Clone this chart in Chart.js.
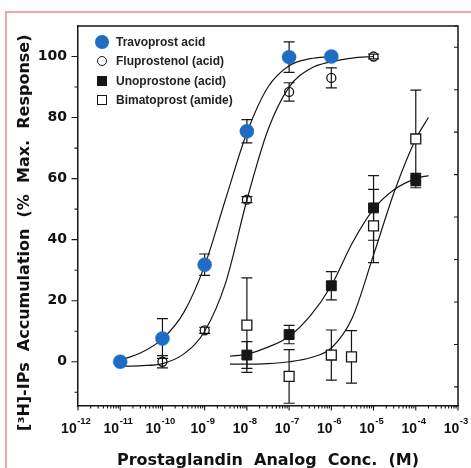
<!DOCTYPE html>
<html>
<head>
<meta charset="utf-8">
<script src="https://cdn.jsdelivr.net/npm/chart.js@4.4.1/dist/chart.umd.min.js"></script>
<style>
html,body{margin:0;padding:0;background:#fff;}
#wrap{position:relative;width:471px;height:468px;overflow:hidden;background:#fff;}
#frame{position:absolute;left:5px;top:11px;width:480px;height:480px;border-left:2px solid #f4a4a7;border-top:2px solid #f4a4a7;}
#c{position:absolute;left:0;top:0;}
#legend{position:absolute;left:94px;top:32px;font:bold 12px "Liberation Sans",Arial,sans-serif;color:#222;}
.row{height:19.5px;display:flex;align-items:center;white-space:nowrap;}
.mk{width:16px;height:16px;margin-right:6px;display:flex;align-items:center;justify-content:center;flex:none;}
.mk span{display:block;box-sizing:border-box;}
</style>
</head>
<body>
<div id="wrap">
  <div id="frame"></div>
  <canvas id="c" width="471" height="468"></canvas>
  <div id="legend"></div>
</div>
<script>
// ---------------- data ----------------
const seriesNames = ['Travoprost acid', 'Fluprostenol (acid)', 'Unoprostone (acid)', 'Bimatoprost (amide)'];

const travoprostConc = [1e-11, 1e-10, 1e-9, 1e-8, 1e-7, 1e-6];
const travoprostResp = [0, 7.6, 31.8, 75.5, 99.8, 100];
const travoprostErr  = [0, 6.5, 3.5, 3.8, 5, 1];

const fluprostenolConc = [1e-10, 1e-9, 1e-8, 1e-7, 1e-6, 1e-5];
const fluprostenolResp = [0, 10.3, 53.1, 88.4, 93, 100];
const fluprostenolErr  = [2, 1, 1, 3, 3.3, 0.8];

const unoprostoneConc = [1e-8, 1e-7, 1e-6, 1e-5, 1e-4];
const unoprostoneResp = [2.2, 8.9, 24.9, 50.4, 59.7];
const unoprostoneErr  = [4.4, 3, 4.6, 10.6, 2];

const bimatoprostConc = [1e-8, 1e-7, 1e-6, 3e-6, 1e-5, 1e-4];
const bimatoprostResp = [12, -4.8, 2.2, 1.6, 44.5, 73];
const bimatoprostErr  = [15.5, 8.8, 8.2, 8.6, 12, 16];

// fitted curves (x as log10 of concentration)
const travoprostFitLog = [-11, -10.5, -10, -9.5, -9, -8.5, -8, -7.5, -7, -6.5, -6];
const travoprostFit    = [0.5, 3, 7.5, 16, 31.5, 53.5, 75, 90, 97, 99.3, 100];

const fluprostenolFitLog = [-11, -10.5, -10, -9.5, -9, -8.5, -8, -7.5, -7, -6.5, -6, -5.5, -5];
const fluprostenolFit    = [-1.5, -1.3, -0.6, 2.5, 10, 26, 53, 76, 90, 96, 98.3, 99.5, 100];

const unoprostoneFitLog = [-8.4, -8, -7.5, -7, -6.5, -6, -5.5, -5, -4.5, -4, -3.7];
const unoprostoneFit    = [1.8, 2.5, 4.8, 8.3, 15, 25, 39, 50, 56.5, 60, 61];

const bimatoprostFitLog = [-8.4, -8, -7.5, -7, -6.5, -6, -5.5, -5, -4.5, -4, -3.7];
const bimatoprostFit    = [-0.8, -0.8, -0.6, 0, 1.3, 4.5, 14.5, 35, 56, 73, 80];

// axis ticks
const xTickValues = [1e-12, 1e-11, 1e-10, 1e-9, 1e-8, 1e-7, 1e-6, 1e-5, 1e-4, 1e-3];
const xTickBase = '10';
const xTickExponents = ['-12', '-11', '-10', '-9', '-8', '-7', '-6', '-5', '-4', '-3'];
const yTickValues = [-10, 0, 10, 20, 30, 40, 50, 60, 70, 80, 90, 100];
const yTickLabels = ['', '0', '', '20', '', '40', '', '60', '', '80', '', '100'];

// ---------------- helpers ----------------
const pts = (xs, ys) => xs.map((x, i) => ({x: x, y: ys[i]}));
const fitPts = (logs, ys) => logs.map((l, i) => ({x: Math.pow(10, l), y: ys[i]}));
const INK = '#161616';
const BLUE = '#1e6cc4';
const FONT = "'Liberation Sans', Arial, sans-serif";
const WIDE = "'DejaVu Sans', 'Liberation Sans', sans-serif";

const curveStyle = {
  showLine: true, pointRadius: 0, pointHoverRadius: 0, borderColor: INK, borderWidth: 1.2,
  cubicInterpolationMode: 'monotone', fill: false
};

const datasets = [
  {label: seriesNames[0], data: pts(travoprostConc, travoprostResp), errors: travoprostErr,
   pointStyle: 'circle', pointRadius: 7, backgroundColor: BLUE, borderColor: BLUE, borderWidth: 0.5},
  {label: seriesNames[1], data: pts(fluprostenolConc, fluprostenolResp), errors: fluprostenolErr,
   pointStyle: 'circle', pointRadius: 4.5, backgroundColor: 'rgba(0,0,0,0)', borderColor: INK, borderWidth: 1.3},
  {label: seriesNames[2], data: pts(unoprostoneConc, unoprostoneResp), errors: unoprostoneErr,
   pointStyle: 'rect', pointRadius: 7, backgroundColor: INK, borderColor: INK, borderWidth: 1},
  {label: seriesNames[3], data: pts(bimatoprostConc, bimatoprostResp), errors: bimatoprostErr,
   pointStyle: 'rect', pointRadius: 7, backgroundColor: '#fff', borderColor: INK, borderWidth: 1.3},
  Object.assign({label: seriesNames[0] + ' fit', data: fitPts(travoprostFitLog, travoprostFit)}, curveStyle),
  Object.assign({label: seriesNames[1] + ' fit', data: fitPts(fluprostenolFitLog, fluprostenolFit)}, curveStyle),
  Object.assign({label: seriesNames[2] + ' fit', data: fitPts(unoprostoneFitLog, unoprostoneFit)}, curveStyle),
  Object.assign({label: seriesNames[3] + ' fit', data: fitPts(bimatoprostFitLog, bimatoprostFit)}, curveStyle)
];

// error bars, drawn under the markers
const errorBars = {
  id: 'errorBars',
  beforeDatasetsDraw(chart) {
    const {ctx, scales: {x, y}} = chart;
    ctx.save();
    ctx.strokeStyle = INK;
    ctx.lineWidth = 1.2;
    chart.data.datasets.forEach(ds => {
      if (!ds.errors) return;
      ds.data.forEach((p, j) => {
        const e = ds.errors[j];
        if (!e) return;
        const px = x.getPixelForValue(p.x);
        const t = y.getPixelForValue(p.y + e);
        const b = y.getPixelForValue(p.y - e);
        ctx.beginPath();
        ctx.moveTo(px, t); ctx.lineTo(px, b);
        ctx.moveTo(px - 5.5, t); ctx.lineTo(px + 5.5, t);
        ctx.moveTo(px - 5.5, b); ctx.lineTo(px + 5.5, b);
        ctx.stroke();
      });
    });
    ctx.restore();
  }
};

// frame (top/right), tick marks and the power-of-ten tick labels
const axisDecor = {
  id: 'axisDecor',
  afterDraw(chart) {
    const {ctx, chartArea: a, scales: {x, y, y2}} = chart;
    ctx.save();
    ctx.strokeStyle = INK;
    ctx.lineWidth = 1.5;
    ctx.beginPath();
    ctx.moveTo(a.left, a.top); ctx.lineTo(a.right, a.top); ctx.lineTo(a.right, a.bottom);
    ctx.stroke();
    ctx.lineWidth = 1.1;
    ctx.beginPath();
    xTickValues.forEach((v, i) => {
      const px = x.getPixelForValue(v);
      ctx.moveTo(px, a.bottom); ctx.lineTo(px, a.bottom + 4.5);
      if (i < xTickValues.length - 1) {
        for (let m = 2; m <= 9; m++) {
          const q = x.getPixelForValue(v * m);
          ctx.moveTo(q, a.bottom); ctx.lineTo(q, a.bottom + 2.5);
        }
      }
    });
    yTickValues.forEach((v, i) => {
      const py = y.getPixelForValue(v);
      const len = yTickLabels[i] ? 6.5 : 3.5;
      ctx.moveTo(a.left - len, py); ctx.lineTo(a.left, py);
    });
    y2.ticks.forEach(t => {
      const py = y2.getPixelForValue(t.value);
      ctx.moveTo(a.right - 4, py); ctx.lineTo(a.right, py);
    });
    ctx.stroke();

    // x tick labels: 10 with a raised exponent
    ctx.fillStyle = '#111';
    ctx.textBaseline = 'alphabetic';
    ctx.textAlign = 'left';
    xTickValues.forEach((v, i) => {
      const px = x.getPixelForValue(v);
      ctx.font = 'bold 14px ' + FONT;
      const w1 = ctx.measureText(xTickBase).width;
      ctx.font = 'bold 9.5px ' + FONT;
      const w2 = ctx.measureText(xTickExponents[i]).width;
      const start = px - (w1 + w2 + 0.5) / 2 - 2;
      ctx.font = 'bold 14px ' + FONT;
      ctx.fillText(xTickBase, start, a.bottom + 27);
      ctx.font = 'bold 9.5px ' + FONT;
      ctx.fillText(xTickExponents[i], start + w1 + 0.5, a.bottom + 18);
    });
    ctx.restore();
  }
};

new Chart(document.getElementById('c'), {
  type: 'scatter',
  data: {datasets: datasets},
  options: {
    responsive: false,
    animation: false,
    events: [],
    layout: {padding: {left: 0, top: 26, right: 13, bottom: 0}},
    plugins: {legend: {display: false}, tooltip: {enabled: false}},
    scales: {
      x: {
        type: 'logarithmic', position: 'bottom', min: 1e-12, max: 1e-3,
        afterBuildTicks: s => { s.ticks = xTickValues.map(v => ({value: v, major: true})); },
        afterFit: s => { s.height = 62; s.paddingLeft = 0; s.paddingRight = 0; },
        grid: {display: true, drawOnChartArea: false, drawTicks: false},
        border: {display: true, color: INK, width: 1.5},
        ticks: {display: false},
        title: {display: true, text: 'Prostaglandin  Analog  Conc.  (M)', color: '#111',
                font: {family: WIDE, size: 16, weight: 'bold'}, padding: {top: 0, bottom: -2}}
      },
      y: {
        type: 'linear', position: 'left', min: -14.5, max: 110,
        afterBuildTicks: s => { s.ticks = yTickValues.map(v => ({value: v})); },
        afterFit: s => { s.width = 78; s.paddingTop = 0; s.paddingBottom = 0; },
        grid: {display: true, drawOnChartArea: false, drawTicks: false},
        border: {display: true, color: INK, width: 1.5},
        ticks: {
          autoSkip: false, padding: 11, color: '#111',
          font: {family: WIDE, size: 14, weight: 'bold'},
          callback: (val, i) => yTickLabels[i]
        },
        title: {display: true, text: '[³H]-IPs  Accumulation  (%  Max.  Response)      ', color: '#111',
                font: {family: WIDE, size: 16, weight: 'bold'}, padding: {top: 15, bottom: 0}}
      },
      y2: {
        type: 'linear', position: 'right', min: -4.5, max: 85,
        afterFit: s => { s.width = 0; },
        grid: {display: false, drawTicks: false},
        border: {display: false},
        ticks: {display: false, stepSize: 10}
      }
    }
  },
  plugins: [errorBars, axisDecor]
});

// HTML legend inside the plot area
const markers = [
  '<span style="width:14px;height:14px;border-radius:50%;background:' + BLUE + '"></span>',
  '<span style="width:10px;height:10px;border-radius:50%;border:1.3px solid ' + INK + '"></span>',
  '<span style="width:10px;height:10px;background:' + INK + '"></span>',
  '<span style="width:10px;height:10px;background:#fff;border:1.3px solid ' + INK + '"></span>'
];
document.getElementById('legend').innerHTML = seriesNames.map((n, i) =>
  '<div class="row"><div class="mk">' + markers[i] + '</div><span>' + n + '</span></div>').join('');
</script>
</body>
</html>
